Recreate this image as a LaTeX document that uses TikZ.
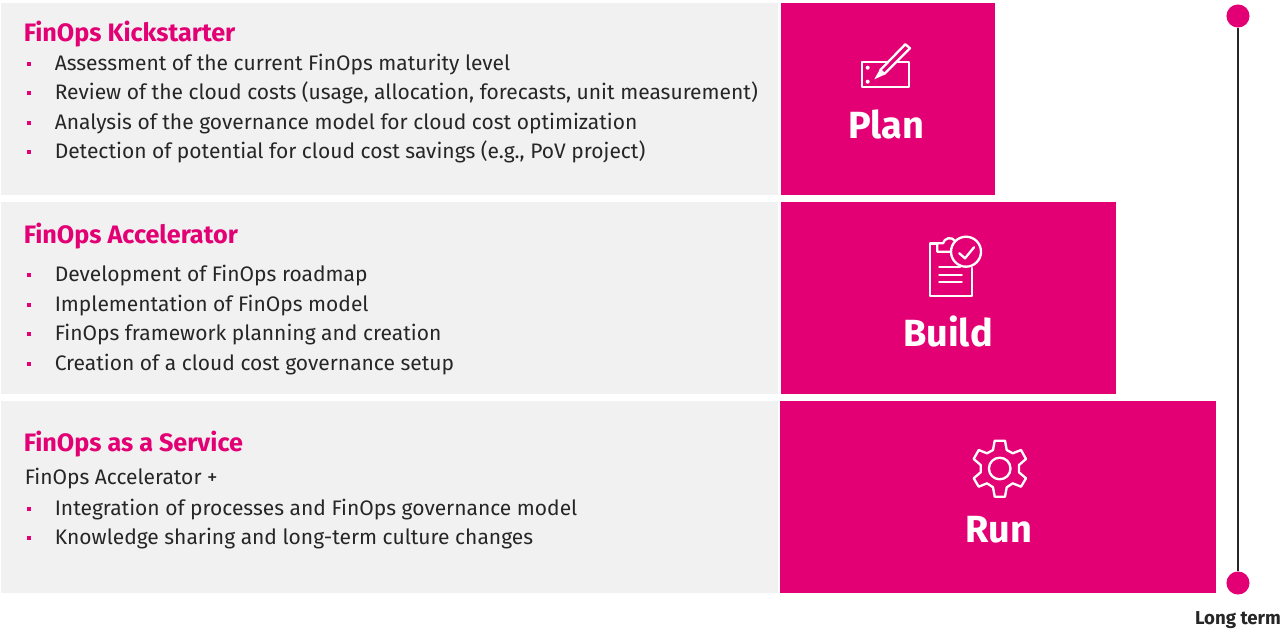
\documentclass[tikz,border=0pt]{standalone}
\usepackage{fontspec}
\setmainfont{Fira Sans}
\definecolor{mag}{HTML}{E20074}
\definecolor{panel}{HTML}{F1F1F1}
\definecolor{ink}{HTML}{262626}
\tikzset{
  panelbox/.style={fill=panel,draw=none},
  pinkbox/.style={fill=mag,draw=none},
  heading/.style={anchor=base west,inner sep=0pt,text=mag,font=\fontsize{18.9}{19}\selectfont\bfseries},
  item/.style={anchor=base west,inner sep=0pt,text=ink,font=\fontsize{15.75}{19}\selectfont},
  bul/.style={fill=mag,draw=none,minimum size=3.7pt,inner sep=0pt},
  phase/.style={anchor=base,inner sep=0pt,text=white,font=\fontsize{28.4}{29}\selectfont\bfseries},
  ico/.style={draw=white,line width=1.75pt,line join=round,line cap=round},
  dot/.style={circle,fill=mag,draw=none,minimum size=17.3pt,inner sep=0pt,outer sep=0pt},
}
\begin{document}
\begin{tikzpicture}[x=0.75pt,y=-0.75pt]
\useasboundingbox (0,0) rectangle (1288,632);
\fill[white] (0,0) rectangle (1288,632);
% panels
\path[panelbox] (1,3) rectangle (778,195);
\path[panelbox] (1,202) rectangle (778,394);
\path[panelbox] (1,401) rectangle (778,593);
\path[pinkbox] (781,3) rectangle (995,195);
\path[pinkbox] (781,202) rectangle (1116,394);
\path[pinkbox] (780,401) rectangle (1216,593);
% timeline
\node[dot] (top) at (1238,16) {};
\node[dot] (bot) at (1238,583) {};
\draw[ink,line width=1.5pt] (top) -- (bot);
\node[anchor=base,inner sep=0pt,text=ink,font=\fontsize{14}{14}\selectfont\bfseries] (lt) at (1238,624) {Long term};
% headings
\node[heading] (h1) at (23.5,41) {FinOps Kickstarter};
\node[heading] (h2) at (23.5,243) {FinOps Accelerator};
\node[heading] (h3) at (23.5,451) {FinOps as a Service};
% items
\foreach \n/\y/\t in {
 a/70/{Assessment of the current FinOps maturity level},
 b/99/{Review of the cloud costs (usage, allocation, forecasts, unit measurement)},
 c/129/{Analysis of the governance model for cloud cost optimization},
 d/158/{Detection of potential for cloud cost savings (e.g., PoV project)},
 e/281/{Development of FinOps roadmap},
 f/311/{Implementation of FinOps model},
 g/340/{FinOps framework planning and creation},
 h/370/{Creation of a cloud cost governance setup},
 j/515/{Integration of processes and FinOps governance model},
 k/544/{Knowledge sharing and long-term culture changes}}{
  \node[item] (t\n) at (54.5,\y) {\t};
  \node[bul] (b\n) at (29,\y-6) {};
}
\node[item] (plus) at (24.5,484.5) {FinOps Accelerator +};
% phase labels
\node[phase] (plan) at (886,138) {Plan};
\node[phase] (build) at (948,346) {Build};
\node[phase] (run) at (998.5,542) {Run};
% plan icon
\draw[ico] (886.7,61.7) -- (861.7,61.7) -- (861.7,87.3) -- (909,87.3) -- (909,61.7) -- (898,61.7);
\fill[white] (867.7,67.7) circle (2);
\fill[white] (867.7,81.7) circle (2);
\draw[ico,fill=mag] (880.3,70) -- (905.3,44.3) -- (910,48.3) -- (884.3,74) -- cycle;
\fill[white] (874.3,79.3) -- (879.5,70) -- (884.5,74.7) -- cycle;
% build icon
\draw[ico] (937.3,243.5) -- (930,243.5) -- (930,296) -- (971.7,296) -- (971.7,268);
\draw[ico] (950.7,251.7) -- (937.3,251.7) -- (937.3,243.3) -- (943,243.3) .. controls (944,238) and (952,236) .. (955,241);
\draw[ico] (966,251.7) circle (15);
\draw[ico] (959.3,253.3) -- (965,258.3) -- (974,247.3);
\draw[ico] (939.3,267.3) -- (960,267.3) (939.3,275) -- (961.7,275) (939.3,281.7) -- (961.7,281.7);
% run icon
\draw[ico] (999.7,468.5) circle (10.8);
\draw[ico] (994.7,440.7) -- (1005,440.7) -- (1006.7,450) -- (1012.7,453.3) -- (1021,450) -- (1026,459)
 -- (1019,465) -- (1019,472.3) -- (1026,478.3) -- (1021,486.7) -- (1012.7,483.3) -- (1006.7,487.3)
 -- (1005,496.7) -- (994.7,496.7) -- (993,487.3) -- (987,483.3) -- (978.7,486.7) -- (973.7,478.3)
 -- (980.7,472.3) -- (980.7,465) -- (973.7,459) -- (978.7,450) -- (987,453.3) -- (993,450) -- cycle;
\end{tikzpicture}
\end{document}
